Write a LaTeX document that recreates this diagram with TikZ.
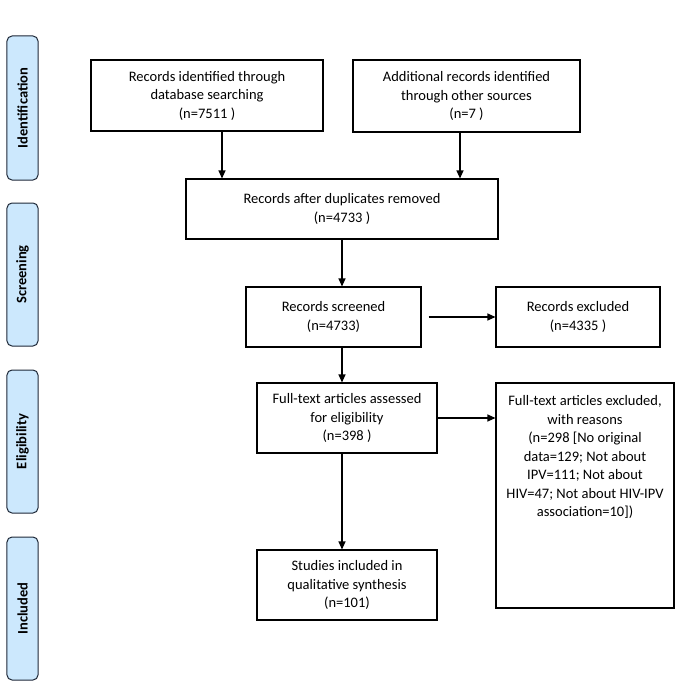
\documentclass[tikz,border=0pt]{standalone}
\usepackage{fontspec}
\setmainfont{Carlito}
\usetikzlibrary{arrows.meta,positioning}
\definecolor{phase}{RGB}{204,232,253}
\definecolor{phaseline}{RGB}{30,40,55}
\tikzset{
  box/.style={draw=black, line width=1.1bp, align=center, font=\fontsize{14.5bp}{18.5bp}\selectfont, inner sep=2bp},
  phasebar/.style={draw=phaseline, fill=phase, rounded corners=5bp, line width=1bp, minimum width=31bp},
  phasetext/.style={rotate=90, font=\fontsize{14.5bp}{17bp}\selectfont\bfseries},
  arr/.style={-{Triangle[length=8bp,width=7bp]}, line width=1.2bp}
}
\begin{document}
\begin{tikzpicture}[x=1bp,y=-1bp]
\useasboundingbox (0,0) rectangle (683,688);
% phase bars
\node[phasebar, minimum height=144bp] (pid) at (22.5,108) {};
\node[phasetext] (tid) at (pid.center) {Identification};
\node[phasebar, minimum height=143bp] (psc) at (22.5,274.5) {};
\node[phasetext] (tsc) at (psc.center) {Screening};
\node[phasebar, minimum height=143bp] (pel) at (22.5,441.5) {};
\node[phasetext] (tel) at (pel.center) {Eligibility};
\node[phasebar, minimum height=143bp] (pin) at (22.5,608.5) {};
\node[phasetext] (tin) at (pin.center) {Included};
% boxes
\node[box, minimum width=232bp, minimum height=71bp] (db) at (207,95.5)
  {Records identified through\\database searching\\(n=7511 )};
\node[box, minimum width=227bp, minimum height=72bp] (oth) at (466.5,96)
  {Additional records identified\\through other sources\\(n=7 )};
\node[box, minimum width=312bp, minimum height=60bp] (dup) at (342,209)
  {Records after duplicates removed\\(n=4733 )};
\node[box, minimum width=175bp, minimum height=60bp] (scr) at (333.5,317)
  {Records screened\\(n=4733)};
\node[box, minimum width=164bp, minimum height=60bp] (exc) at (578,317)
  {Records excluded\\(n=4335 )};
\node[box, minimum width=180bp, minimum height=70bp] (ft) at (347,418)
  {Full-text articles assessed\\for eligibility\\(n=398 )};
\node[box, minimum width=178bp, minimum height=225bp] (ftx) at (585,495.5) {};
\node[align=center, font=\fontsize{14.5bp}{18.5bp}\selectfont, anchor=north, inner sep=0pt] (ftxt) at ([yshift=-13bp]ftx.north)
  {Full-text articles excluded,\\with reasons\\(n=298 [No original\\data=129; Not about\\IPV=111; Not about\\HIV=47; Not about HIV-IPV\\association=10])};
\node[box, minimum width=180bp, minimum height=70bp] (inc) at (347,585)
  {Studies included in\\qualitative synthesis\\(n=101)};
% arrows
\draw[arr] ([xshift=15bp]db.south) -- ([xshift=15bp]db.south |- dup.north);
\draw[arr] ([xshift=-6.5bp]oth.south) -- ([xshift=-6.5bp]oth.south |- dup.north);
\draw[arr] (dup.south) -- (dup.south |- scr.north);
\draw[arr] ([xshift=7bp]scr.east) -- (exc.west);
\draw[arr] ([xshift=8.5bp]scr.south) -- ([xshift=8.5bp]scr.south |- ft.north);
\draw[arr] (ft.east) -- (ft.east -| ftx.west);
\draw[arr] ([xshift=-5bp]ft.south) -- ([xshift=-5bp]ft.south |- inc.north);
\end{tikzpicture}
\end{document}
